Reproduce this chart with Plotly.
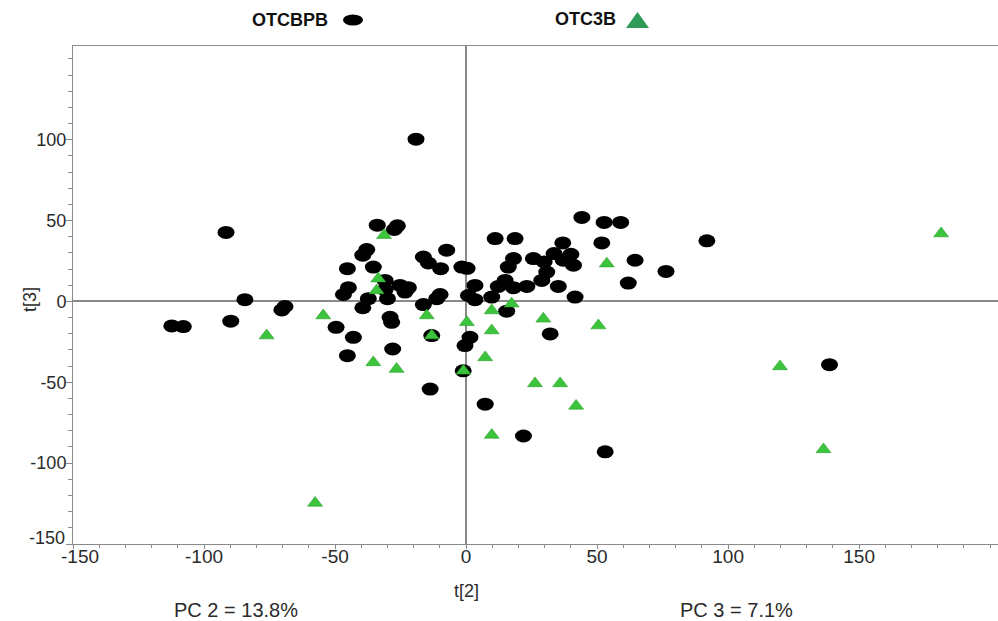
import plotly.graph_objects as go

# Score coordinates (t[2], t[3]) for each group
otcbpb_t2 = [-91.6, -84.4, -69.1, -70.3, -112.3, -107.9, -89.8, -19.1,
             -33.9, -26.2, -27.4, -37.9, -39.4, -45.3, -35.4, -30.9, -44.9, -46.8,
             -30.9, -25.2, -22.0, -23.3, -37.3, -39.4, -30.0, -16.3, -14.4, -7.4,
             -9.7, -1.6, -9.9, -11.2, -16.3, -29.0, -28.4, -49.6, -43.0, -13.1,
             -28.0, -45.3, -13.7, 1.5, -0.4, -1.1,
             44.2, 52.7, 59.0, 11.1, 18.7, 51.8, 36.9, 33.6, 40.0, 25.7, 29.8,
             18.1, 37.1, 41.0, 64.5, 16.1, 30.8, 28.9, 14.9, 12.3, 18.1, 23.2,
             35.2, 61.9, 0.4, 3.4, 0.9, 3.4, 9.8, 41.6, 15.5, 32.1,
             7.3, 21.9, 53.1, 91.9, 76.3, 138.7]
otcbpb_t3 = [42.7, 1.1, -3.1, -5.2, -15.1, -15.5, -12.2, 100.4,
             47.2, 46.8, 44.5, 32.1, 28.6, 20.3, 21.3, 13.0, 8.5, 4.3,
             7.3, 9.9, 8.5, 5.8, 1.7, -3.9, 1.7, 27.5, 23.8, 31.7,
             20.3, 21.3, 4.3, 1.7, -1.9, -9.8, -12.9, -16.0, -22.2, -21.1,
             -29.4, -33.5, -54.2, -22.2, -27.3, -42.9,
             52.0, 48.9, 48.9, 38.9, 38.9, 36.2, 36.2, 29.6, 29.2, 26.5, 24.4,
             26.5, 25.5, 22.4, 25.5, 21.3, 18.2, 13.0, 13.0, 9.3, 8.5, 9.3,
             9.3, 11.4, 20.5, 9.9, 3.7, 1.1, 2.7, 2.7, -6.0, -20.1,
             -63.5, -83.2, -93.0, 37.5, 18.6, -39.1]

otc3b_t2 = [-76.1, -54.5, -31.3, -33.5, -34.1, -15.0, -13.1, -35.4, -26.5,
            -1.0, 0.3, 17.4, 9.8, 9.8, 29.5, 50.5, 53.7, 7.3, 26.3, 35.9,
            42.0, 9.8, -57.6, 181.3, 119.8, 136.4]
otc3b_t3 = [-21.1, -8.7, 41.0, 14.1, 6.8, -8.7, -21.1, -37.7, -41.8,
            -42.9, -12.9, -1.4, -5.6, -18.0, -10.7, -14.9, 23.4, -34.6, -50.7, -50.7,
            -64.6, -82.6, -124.6, 42.0, -40.2, -91.5]

series_names = ["OTCBPB", "OTC3B"]
x_title, y_title = "t[2]", "t[3]"
pc_labels = ["PC 2 = 13.8%", "PC 3 = 7.1%"]
x_tick_vals = [-150, -100, -50, 0, 50, 100, 150]
y_tick_vals = [-150, -100, -50, 0, 50, 100]

W, H = 998, 621
MARGIN = dict(l=73, r=0, t=46, b=77)
X_RANGE = [-150, 203]
Y_RANGE = [-150, 158]

FONT = "Liberation Sans, Arial, sans-serif"
AXIS_GREY = "#8a8a8a"
TEXT_COLOR = "#2b2b2b"
DOT_COLOR = "#000000"
TRI_FILL = "#3cc43c"
TRI_EDGE = "#2b9e2b"
LEGEND_TRI = "#2e9b57"
X_TICK_SIZE, Y_TICK_SIZE = 19, 18

plot_w = W - MARGIN["l"] - MARGIN["r"]
plot_h = H - MARGIN["t"] - MARGIN["b"]
x_scale = plot_w / (X_RANGE[1] - X_RANGE[0])   # px per unit
y_scale = plot_h / (Y_RANGE[1] - Y_RANGE[0])

# Black score markers are drawn as slightly wide ellipses (in pixel terms)
DOT_RX_PX, DOT_RY_PX = 8.5, 6.5
rx = DOT_RX_PX / x_scale
ry = DOT_RY_PX / y_scale

shapes = []
for xv, yv in zip(otcbpb_t2, otcbpb_t3):
    shapes.append(dict(type="circle", xref="x", yref="y",
                       x0=xv - rx, x1=xv + rx, y0=yv - ry, y1=yv + ry,
                       fillcolor=DOT_COLOR, line=dict(width=0), layer="between"))


def px_to_paper(px, py):
    return (px - MARGIN["l"]) / plot_w, (H - MARGIN["b"] - py) / plot_h


# Custom legend above the plot: label followed by its marker
lx0, ly0 = px_to_paper(343, 25.5)
lx1, ly1 = px_to_paper(363, 14.5)
shapes.append(dict(type="circle", xref="paper", yref="paper",
                   x0=lx0, x1=lx1, y0=ly0, y1=ly1,
                   fillcolor=DOT_COLOR, line=dict(width=0), layer="above"))
ta = px_to_paper(626, 28)
tb = px_to_paper(649, 28)
tc = px_to_paper(637.5, 12)
shapes.append(dict(type="path", xref="paper", yref="paper",
                   path=f"M {ta[0]},{ta[1]} L {tb[0]},{tb[1]} L {tc[0]},{tc[1]} Z",
                   fillcolor=LEGEND_TRI, line=dict(width=0), layer="above"))

fig = go.Figure()
fig.add_trace(go.Scatter(
    x=otc3b_t2, y=otc3b_t3, mode="markers", name=series_names[1],
    marker=dict(symbol="triangle-up", size=13, color=TRI_FILL,
                line=dict(color=TRI_EDGE, width=0.6)),
    showlegend=False, cliponaxis=False,
))

annotations = []
for name, (cx, cy) in zip(series_names, [(290, 20), (585, 19)]):
    p = px_to_paper(cx, cy)
    annotations.append(dict(text=f"<b>{name}</b>", xref="paper", yref="paper",
                            x=p[0], y=p[1], showarrow=False,
                            font=dict(family=FONT, size=18, color="#111"),
                            xanchor="center", yanchor="middle"))
t2_pos = px_to_paper(466, 591)
annotations.append(dict(text=x_title, xref="paper", yref="paper",
                        x=t2_pos[0], y=t2_pos[1], showarrow=False,
                        font=dict(family=FONT, size=18, color=TEXT_COLOR),
                        xanchor="center", yanchor="middle"))
t3_pos = px_to_paper(30, 300)
annotations.append(dict(text=y_title, xref="paper", yref="paper",
                        x=t3_pos[0], y=t3_pos[1], showarrow=False, textangle=-90,
                        font=dict(family=FONT, size=18, color=TEXT_COLOR),
                        xanchor="center", yanchor="middle"))
for label, cx in zip(pc_labels, [236, 736]):
    p = px_to_paper(cx, 610)
    annotations.append(dict(text=label, xref="paper", yref="paper",
                            x=p[0], y=p[1], showarrow=False,
                            font=dict(family=FONT, size=20, color=TEXT_COLOR),
                            xanchor="center", yanchor="middle"))

# The corner labels (-150 on both axes) are nudged inward so they do not collide
corner_x_label = px_to_paper(80, 556)
annotations.append(dict(text=str(x_tick_vals[0]), xref="paper", yref="paper",
                        x=corner_x_label[0], y=corner_x_label[1], showarrow=False,
                        font=dict(family=FONT, size=X_TICK_SIZE, color=TEXT_COLOR),
                        xanchor="center", yanchor="middle"))
corner_y_label = px_to_paper(67, 538)
annotations.append(dict(text=str(y_tick_vals[0]), xref="paper", yref="paper",
                        x=corner_y_label[0], y=corner_y_label[1], showarrow=False,
                        font=dict(family=FONT, size=Y_TICK_SIZE, color=TEXT_COLOR),
                        xanchor="right", yanchor="middle"))

axis_common = dict(
    showgrid=False,
    showline=True, linecolor=AXIS_GREY, linewidth=1,
    zeroline=True, zerolinecolor=AXIS_GREY, zerolinewidth=1.5,
    ticks="outside", tickcolor=AXIS_GREY, tickwidth=1,
)

fig.update_layout(
    width=W, height=H,
    margin=dict(l=MARGIN["l"], r=MARGIN["r"], t=MARGIN["t"], b=MARGIN["b"], pad=0),
    paper_bgcolor="white", plot_bgcolor="white",
    xaxis=dict(range=X_RANGE, tickvals=x_tick_vals,
               ticktext=[""] + [str(v) for v in x_tick_vals[1:]],
               mirror=True, ticklen=4, ticklabelstandoff=-9,
               tickfont=dict(family=FONT, size=X_TICK_SIZE, color=TEXT_COLOR),
               minor=dict(dtick=10, ticks="outside", ticklen=3,
                          tickcolor=AXIS_GREY, tickwidth=1),
               **axis_common),
    yaxis=dict(range=Y_RANGE, tickvals=y_tick_vals,
               ticktext=[""] + [str(v) for v in y_tick_vals[1:]],
               mirror=False, ticklen=6, ticklabelstandoff=-4,
               tickfont=dict(family=FONT, size=Y_TICK_SIZE, color=TEXT_COLOR),
               minor=dict(dtick=10, ticks="outside", ticklen=4,
                          tickcolor=AXIS_GREY, tickwidth=1),
               **axis_common),
    shapes=shapes,
    annotations=annotations,
    showlegend=False,
)

fig.write_html("out.html")
